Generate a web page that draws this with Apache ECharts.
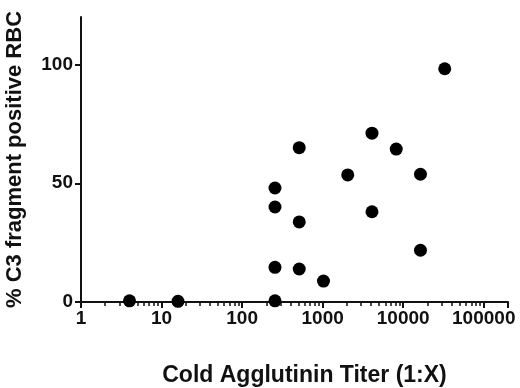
<!DOCTYPE html>
<html>
<head>
<meta charset="utf-8">
<script src="https://cdn.jsdelivr.net/npm/echarts@6/dist/echarts.min.js"></script>
<style>
  html, body { margin: 0; padding: 0; background: #fff; }
  #chart { width: 520px; height: 388px; }
</style>
</head>
<body>
<div id="chart"></div>
<script>
// cold agglutinin titer (1:X) and % C3 positive RBC
const titers = [4, 16, 256, 256, 256, 256, 512, 512, 512, 1024, 2048, 4096, 4096, 8192, 16384, 16384, 32768];
const c3Positive = [0.5, 0.3, 48, 40, 14.6, 0.5, 65, 33.7, 13.9, 8.8, 53.5, 71.1, 38, 64.4, 53.8, 21.8, 98.2];

const xMajorTicks = [1, 10, 100, 1000, 10000, 100000];
const xMinorTicks = [];
for (let d = 1; d <= 10000; d *= 10) {
    for (let m = 2; m <= 9; m++) xMinorTicks.push(m * d);
}
xMinorTicks.push(200000);
const yTicks = [0, 50, 100];

const points = titers.map((t, i) => [t, c3Positive[i]]);

const font = '"Liberation Sans", Arial, sans-serif';

const option = {
    animation: false,
    grid: { left: 81, right: 12, top: 17, bottom: 86, containLabel: false, outerBoundsMode: 'none' },
    xAxis: [
        {
            type: 'log',
            logBase: 10,
            min: 1,
            max: 200000,
            name: 'Cold Agglutinin Titer (1:X)',
            nameLocation: 'middle',
            nameGap: 62,
            nameTextStyle: { fontFamily: font, fontSize: 23, fontWeight: 'bold', color: '#111', padding: [0, 0, 0, 20] },
            axisLine: { lineStyle: { color: '#111', width: 2 } },
            axisTick: { length: 6, lineStyle: { color: '#111', width: 2 }, customValues: xMajorTicks.concat([200000]) },
            axisLabel: {
                customValues: xMajorTicks,
                formatter: v => String(Math.round(v)),
                fontFamily: font, fontSize: 19, fontWeight: 'bold', color: '#111', margin: 7
            },
            splitLine: { show: false },
            minorTick: { show: false }
        },
        {
            type: 'log',
            logBase: 10,
            min: 1,
            max: 200000,
            position: 'bottom',
            axisLine: { show: false },
            axisTick: { length: 4, lineStyle: { color: '#111', width: 1.5 }, customValues: xMinorTicks },
            axisLabel: { show: false },
            splitLine: { show: false }
        }
    ],
    yAxis: {
        type: 'value',
        min: 0,
        max: 120,
        name: '% C3 fragment positive RBC',
        nameLocation: 'middle',
        nameGap: 55,
        nameTextStyle: { fontFamily: font, fontSize: 22, fontWeight: 'bold', color: '#111' },
        axisLine: { show: true, lineStyle: { color: '#111', width: 2 } },
        axisTick: { show: true, length: 6, lineStyle: { color: '#111', width: 2 }, customValues: yTicks },
        axisLabel: {
            customValues: yTicks,
            fontFamily: font, fontSize: 19, fontWeight: 'bold', color: '#111', margin: 8
        },
        splitLine: { show: false }
    },
    series: [
        {
            type: 'scatter',
            data: points,
            symbol: 'circle',
            symbolSize: 13,
            itemStyle: { color: '#000', opacity: 1 },
            clip: false
        }
    ]
};

const chart = echarts.init(document.getElementById('chart'));
chart.setOption(option);
</script>
</body>
</html>
